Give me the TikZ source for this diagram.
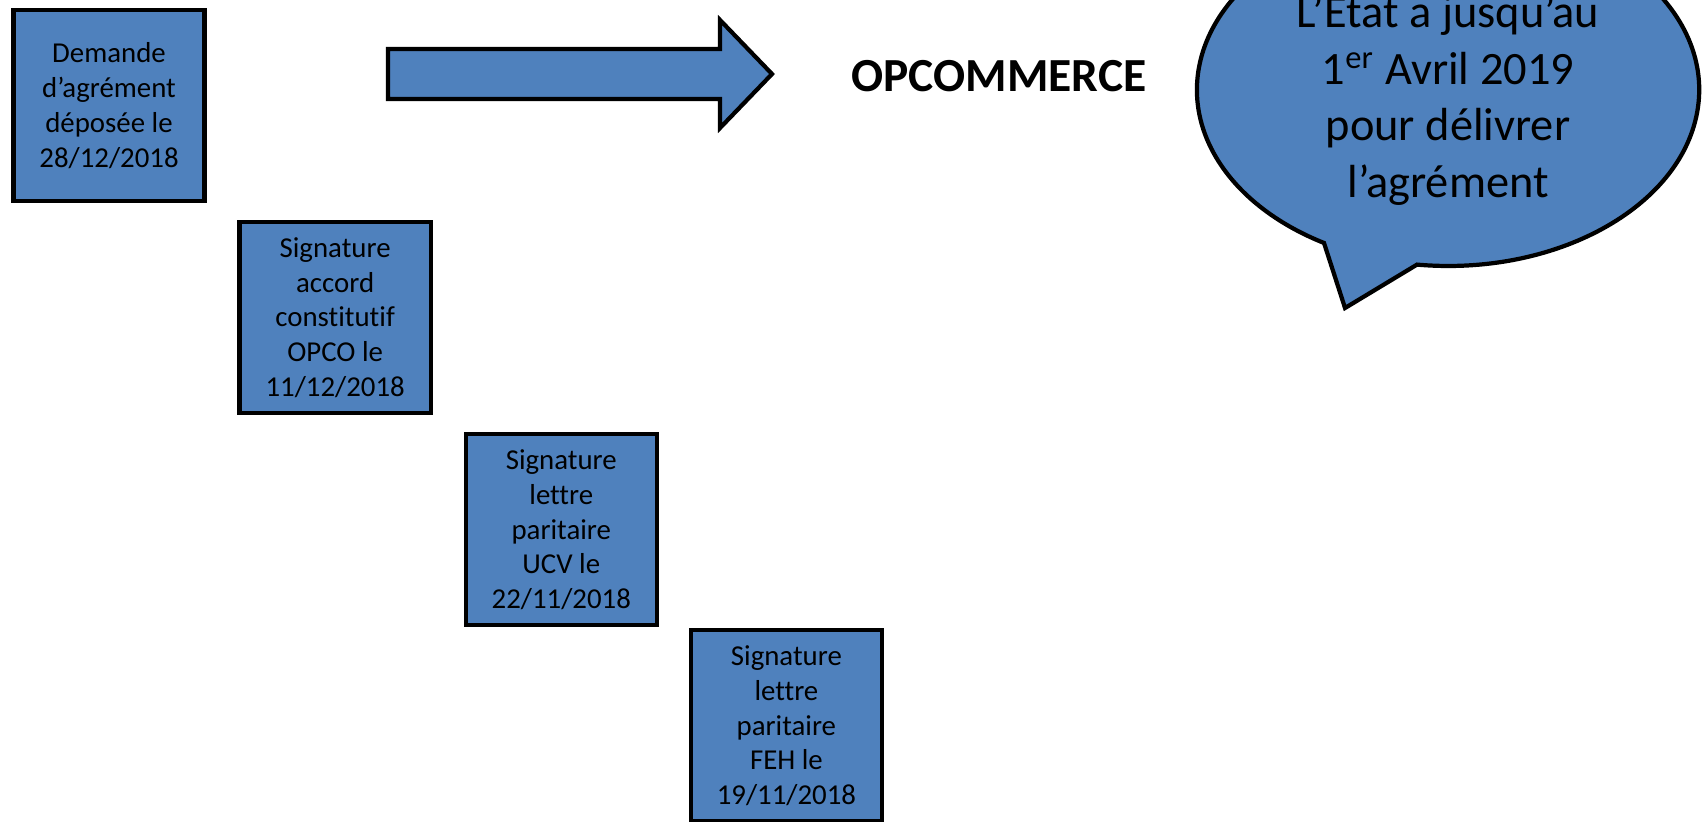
\documentclass[tikz,border=0pt]{standalone}
\usepackage{fontspec}
\setmainfont{Carlito}[Ligatures=NoCommon]
\usetikzlibrary{positioning}
\definecolor{opblue}{RGB}{79,129,189}

\begin{document}
\begin{tikzpicture}[x=0.01cm,y=-0.01cm,node distance=2.12cm and 2.26cm,on grid,
  etape/.style={draw,fill=opblue,line width=1.2pt,minimum size=1.91cm,inner sep=0pt,
    align=center,font=\fontsize{8.2}{9.9}\selectfont},
  forme/.style={draw,fill=opblue,line width=1.2pt,line join=miter}]
  \useasboundingbox (0,0) rectangle (1704,821);
  \clip (0,0) rectangle (1704,821);
  \path
  node[etape] (demande) at (109,105.5) {Demande\\d’agrément\\déposée le\\28/12/2018}
  node[etape] (accord) [below right=of demande] {Signature\\accord\\constitutif\\OPCO le\\11/12/2018}
  node[etape] (ucv) [below right=of accord] {Signature\\lettre\\paritaire\\UCV le\\22/11/2018}
  node[etape] (feh) [below right=1.96cm and 2.25cm of ucv] {Signature\\lettre\\paritaire\\FEH le\\19/11/2018}
  node[font=\fontsize{13.5}{16}\selectfont\bfseries] (opco) at (999,76) {OPCOMMERCE}
  ;
  % grosse fleche
  \draw[forme] (388,49) -- (720,49) -- (720,20) -- (772,74) -- (720,128) -- (720,99) -- (388,99) -- cycle;
  % bulle
  \draw[forme] (1324,243) -- (1345,308) -- (1417,264.6)
    arc[start angle=262.9,end angle=600.4,x radius=2.51cm,y radius=1.76cm] -- cycle;
  \node[align=center,font=\fontsize{13.2}{16.1}\selectfont] (bulle) at (1448,97)
    {L’État a jusqu’au\\1\textsuperscript{er} Avril 2019\\pour délivrer\\l’agrément};
\end{tikzpicture}
\end{document}
